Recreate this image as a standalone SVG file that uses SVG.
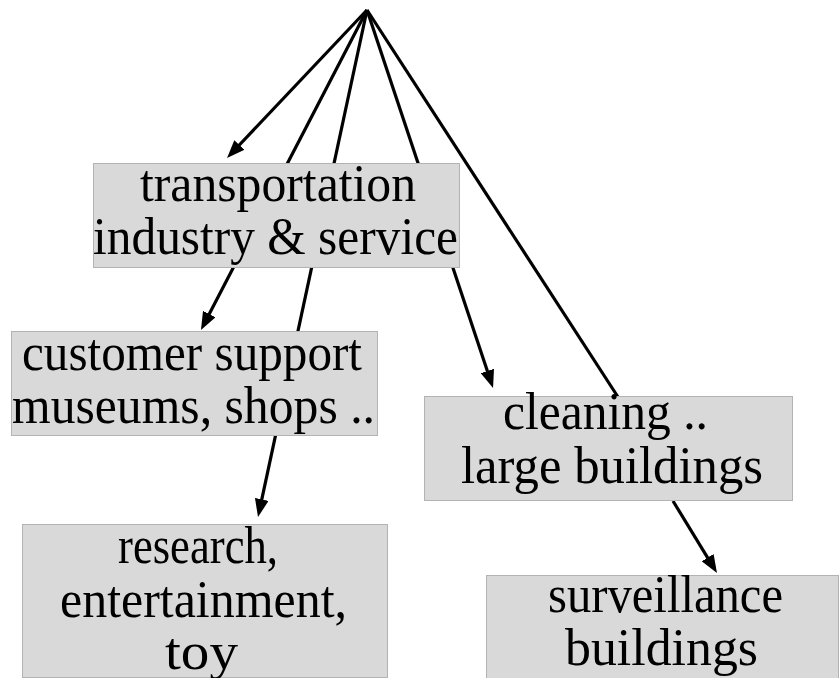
<svg xmlns="http://www.w3.org/2000/svg" width="839" height="678" viewBox="0 0 839 678">
<style>
.box{fill:#d9d9d9;stroke:#b3b3b3;stroke-width:1}
.t{font-family:'Liberation Serif',serif;font-size:52px;fill:#000;text-anchor:middle}
.c{stroke:#000;stroke-width:3.2;fill:none}
</style>
<defs>
<marker id="ah" viewBox="0 0 18 14" refX="9" refY="7" markerWidth="18" markerHeight="14" markerUnits="userSpaceOnUse" orient="auto">
<path d="M0,0 L18,7 L0,14 z" fill="#000"/>
</marker>
</defs>
<rect width="839" height="678" fill="#fff"/>
<g id="connectors">
<line class="c" x1="367" y1="10" x2="233.2" y2="151.5" stroke-width="4" marker-end="url(#ah)"/>
<line class="c" x1="367" y1="10" x2="205.1" y2="322" marker-end="url(#ah)"/>
<line class="c" x1="367" y1="10" x2="259.9" y2="508.2" marker-end="url(#ah)"/>
<line class="c" x1="367" y1="10" x2="490.2" y2="379.5" marker-end="url(#ah)"/>
<line class="c" x1="367" y1="10" x2="618" y2="397" stroke-width="3.6"/>
<line class="c" x1="673" y1="501" x2="712.3" y2="565.3" marker-end="url(#ah)"/>
</g>
<g id="transportation">
<rect class="box" x="93.5" y="163.5" width="366" height="104"/>
<text class="t" x="278" y="201" textLength="276" lengthAdjust="spacingAndGlyphs">transportation</text>
<text class="t" x="275.5" y="254" textLength="365" lengthAdjust="spacingAndGlyphs">industry &amp; service</text>
</g>
<g id="customer">
<rect class="box" x="11.5" y="331.5" width="366" height="104"/>
<text class="t" x="192" y="370" textLength="340" lengthAdjust="spacingAndGlyphs">customer support</text>
<text class="t" x="193.5" y="423" textLength="363" lengthAdjust="spacingAndGlyphs">museums, shops ..</text>
</g>
<g id="research">
<rect class="box" x="22.5" y="524.5" width="365" height="153"/>
<text class="t" x="198" y="563" textLength="160" lengthAdjust="spacingAndGlyphs">research,</text>
<text class="t" x="203.5" y="617" textLength="287" lengthAdjust="spacingAndGlyphs">entertainment,</text>
<text class="t" x="201.5" y="669" textLength="73" lengthAdjust="spacingAndGlyphs">toy</text>
</g>
<g id="cleaning">
<rect class="box" x="424.5" y="396.5" width="368" height="104"/>
<text class="t" x="605.5" y="429" textLength="205" lengthAdjust="spacingAndGlyphs">cleaning ..</text>
<text class="t" x="612" y="483" textLength="302" lengthAdjust="spacingAndGlyphs">large buildings</text>
</g>
<g id="surveillance">
<rect class="box" x="486.5" y="575.5" width="352" height="103"/>
<text class="t" x="665.5" y="612" textLength="235" lengthAdjust="spacingAndGlyphs">surveillance</text>
<text class="t" x="661.5" y="665" textLength="193" lengthAdjust="spacingAndGlyphs">buildings</text>
</g>
</svg>
